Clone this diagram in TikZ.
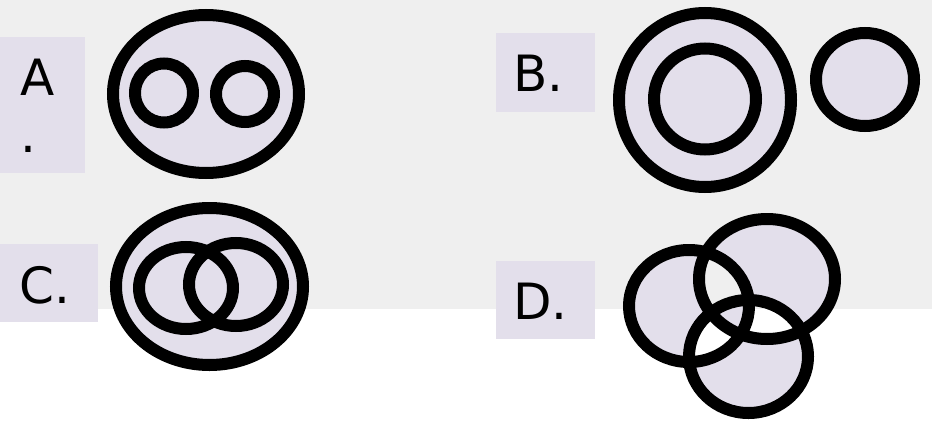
\documentclass[tikz,border=0pt]{standalone}
\usepackage{fontspec}
\setmainfont{DejaVu Sans}
\definecolor{lav}{HTML}{E3DFEB}
\definecolor{bggray}{HTML}{EFEFEF}
\tikzset{
  ring/.style={draw=black, line width=12pt},
  labelbox/.style={fill=lav, draw=none},
  lbl/.style={anchor=base west, inner sep=0pt, font=\fontsize{50}{57}\selectfont, text=black}
}
\begin{document}
\begin{tikzpicture}[x=1pt,y=-1pt]
\useasboundingbox (0,0) rectangle (932,423);
\fill[white] (0,0) rectangle (932,423);
\fill[bggray] (0,0) rectangle (932,309);

% label boxes
\fill[labelbox] (0,37) rectangle (85,173);
\fill[labelbox] (496,33) rectangle (595,112);
\fill[labelbox] (0,244) rectangle (98,322);
\fill[labelbox] (496,261) rectangle (595,339);
\node[lbl] (la1) at (20,95) {A};
\node[lbl] (la2) at (20,152) {.};
\node[lbl] (lb) at (513,91) {B.};
\node[lbl] (lc) at (19,303) {C.};
\node[lbl] (ld) at (513,319) {D.};

% A
\draw[ring, fill=lav] (206,94) ellipse [x radius=93pt, y radius=79pt];
\draw[ring] (164,93) ellipse [x radius=29pt, y radius=29.5pt];
\draw[ring] (245,94) ellipse [x radius=29pt, y radius=28pt];

% B
\draw[ring, fill=lav] (705,100) ellipse [x radius=86pt, y radius=87pt];
\draw[ring] (705,99) ellipse [x radius=51pt, y radius=50.5pt];
\draw[ring, fill=lav] (865,79.5) ellipse [x radius=49pt, y radius=46.5pt];

% C
\draw[ring, fill=lav] (209.5,286.5) ellipse [x radius=93.5pt, y radius=78.5pt];
\draw[ring] (186,288) ellipse [x radius=47pt, y radius=41pt];
\draw[ring] (236,284.5) ellipse [x radius=47pt, y radius=41.5pt];

% D
\fill[lav, even odd rule] (689,306) ellipse [x radius=60pt, y radius=56pt]
  (767,279) ellipse [x radius=68pt, y radius=60pt]
  (748.5,356.5) ellipse [x radius=59.5pt, y radius=56.5pt];
\draw[ring] (689,306) ellipse [x radius=60pt, y radius=56pt];
\draw[ring] (767,279) ellipse [x radius=68pt, y radius=60pt];
\draw[ring] (748.5,356.5) ellipse [x radius=59.5pt, y radius=56.5pt];
\end{tikzpicture}
\end{document}
